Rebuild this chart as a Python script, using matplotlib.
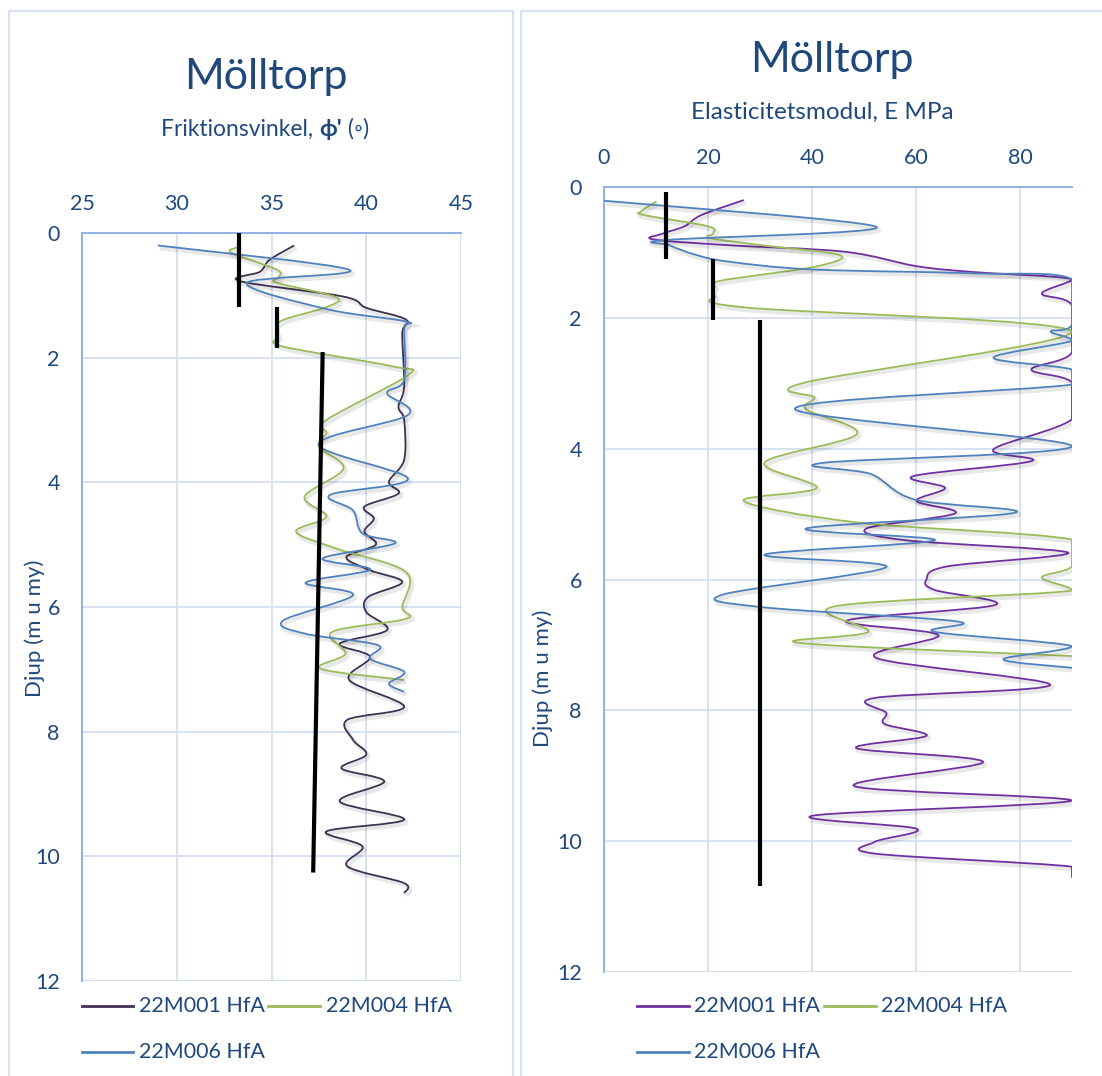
import numpy as np
import matplotlib
matplotlib.use("Agg")
import matplotlib.pyplot as plt
import matplotlib.patheffects as pe
from matplotlib.path import Path
from matplotlib.patches import PathPatch, Rectangle
from matplotlib.lines import Line2D
from matplotlib.transforms import Affine2D

plt.rcParams['font.family'] = ['Lato', 'DejaVu Sans']

# ---- data: friction angle (left chart) ----
phi_001_d = [0.20, 0.43, 0.62, 0.77, 1.02, 1.20, 1.39, 1.61, 2.46, 2.79, 3.00, 3.64, 3.99,
             4.18, 4.39, 4.58, 4.79, 5.00, 5.20, 5.41, 5.60, 5.84, 6.08, 6.37, 6.59, 6.80,
             7.17, 7.60, 7.81, 8.13, 8.37, 8.59, 8.80, 9.12, 9.41, 9.60, 9.84, 10.16, 10.43, 10.59]
phi_001_v = [36.2, 34.9, 34.4, 33.3, 38.8, 40.0, 42.1, 41.9, 42.0, 41.7, 42.0, 42.0, 41.2,
             41.7, 39.9, 40.4, 39.9, 40.5, 38.95, 40.2, 41.9, 40.1, 40.0, 41.1, 38.6, 40.2,
             39.1, 42.0, 39.0, 39.3, 40.0, 38.7, 40.95, 38.6, 42.0, 37.9, 39.8, 39.0, 42.0, 42.0]

phi_004_d = [0.23, 0.32, 0.59, 0.72, 0.80, 1.03, 1.19, 1.42, 1.66, 1.82, 2.14, 2.28, 3.00,
             3.21, 3.43, 3.78, 4.23, 4.55, 4.79, 5.06, 5.44, 6.00, 6.19, 6.40, 6.75, 6.99, 7.17]
phi_004_v = [33.2, 32.9, 35.3, 35.35, 35.3, 38.4, 37.9, 35.45, 35.35, 35.6, 41.4, 42.2, 37.9,
             37.9, 37.5, 38.8, 36.75, 37.9, 36.3, 38.4, 42.1, 41.9, 42.1, 38.2, 38.9, 37.6, 42.0]

phi_006_d = [0.20, 0.59, 0.80, 1.22, 1.42, 1.55, 2.36, 2.57, 2.92, 3.39, 3.94, 4.20, 4.45,
             4.82, 4.98, 5.22, 5.40, 5.61, 5.81, 6.22, 6.43, 6.61, 6.83, 7.04, 7.23, 7.36]
phi_006_v = [29.0, 39.1, 33.7, 37.9, 42.1, 42.0, 42.0, 41.1, 42.2, 37.5, 42.2, 38.1, 39.3,
             39.8, 41.5, 37.7, 40.2, 36.8, 39.3, 35.6, 36.8, 40.6, 40.2, 42.0, 41.2, 42.0]

phi_design_v = [[33.3, 33.3], [35.3, 35.3], [37.7, 37.2]]
phi_design_d = [[0.0, 1.19], [1.19, 1.84], [1.91, 10.26]]

# ---- data: elastic modulus (right chart) ----
e_001_d = [0.20, 0.43, 0.60, 0.71, 0.80, 0.89, 0.99, 1.21, 1.30, 1.41, 1.63, 1.81, 2.53,
           2.79, 2.99, 3.55, 4.01, 4.19, 4.42, 4.60, 4.80, 4.99, 5.22, 5.40, 5.59, 5.80,
           6.00, 6.16, 6.39, 6.63, 6.85, 7.20, 7.61, 7.81, 8.04, 8.21, 8.39, 8.58, 8.79,
           9.16, 9.38, 9.61, 9.81, 10.01, 10.19, 10.39, 10.56]
e_001_v = [26.9, 18.7, 15.5, 11.4, 9.4, 23.9, 46.3, 60.1, 71.0, 90, 84.2, 90, 90,
           82.2, 90, 90, 74.9, 82.2, 59.5, 65.6, 60.1, 67.5, 50.5, 58.0, 89.3, 66.0,
           62.0, 63.6, 75.2, 46.6, 64.3, 52.4, 85.8, 52.1, 54.3, 54.0, 62.0, 48.6, 72.9,
           48.2, 89.9, 40.2, 60.1, 52.1, 52.1, 90, 90]

e_004_d = [0.22, 0.37, 0.43, 0.60, 0.71, 0.78, 0.89, 1.04, 1.22, 1.43, 1.53, 1.66, 1.84,
           2.21, 2.99, 3.22, 3.40, 3.78, 4.21, 4.60, 4.80, 5.13, 5.39, 5.80, 5.97, 6.17,
           6.41, 6.80, 6.97, 7.17]
e_004_v = [10.1, 7.2, 7.8, 20.0, 21.0, 20.3, 30.3, 45.3, 40.5, 22.6, 21.3, 21.3, 27.0,
           90, 38.6, 40.5, 38.9, 48.6, 30.9, 40.9, 26.9, 48.9, 90, 90, 84.2, 90,
           44.4, 50.8, 37.7, 90]

e_006_d = [0.21, 0.61, 0.81, 0.89, 1.04, 1.14, 1.26, 1.32, 1.41, 2.10, 2.21, 2.35, 2.61,
           2.79, 3.02, 3.39, 3.96, 4.22, 4.39, 4.78, 4.98, 5.22, 5.40, 5.62, 5.81, 6.23,
           6.42, 6.64, 6.80, 7.02, 7.22, 7.35]
e_006_v = [0.0, 52.4, 12.0, 12.6, 17.8, 23.9, 39.9, 71.0, 90, 90, 85.9, 90, 74.9,
           90, 90, 36.7, 90, 41.8, 51.4, 59.8, 79.0, 38.9, 63.6, 30.9, 54.3, 22.9,
           30.0, 67.8, 63.6, 90, 76.8, 90]

e_design_v = [[11.9, 11.9], [21.0, 21.0], [30.0, 30.0]]
e_design_d = [[0.08, 1.10], [1.10, 2.03], [2.04, 10.68]]

labels = ["22M001 HfA", "22M004 HfA", "22M006 HfA"]
txt_col = "#1F497D"
grid_col = "#D3DFF1"
spine_col = "#8DB3E2"
green = "#9BBB59"
blue = "#4F81BD"

W, H = 1102, 1076
fig = plt.figure(figsize=(W / 100, H / 100), dpi=100)
# pixel coordinates, origin top-left
T = Affine2D().scale(1 / W, -1 / H).translate(0, 1) + fig.transFigure

shadow = [pe.SimpleLineShadow(offset=(1.5, -2), shadow_color='k', alpha=0.09, linewidth=3),
          pe.Normal()]


def smooth_line(ax, v, d, color, xmax=None):
    pts = np.column_stack([v, d]).astype(float)
    n = len(pts)
    verts = [pts[0]]
    codes = [Path.MOVETO]
    for i in range(n - 1):
        p0 = pts[i - 1] if i > 0 else pts[i]
        p1, p2 = pts[i], pts[i + 1]
        p3 = pts[i + 2] if i + 2 < n else pts[i + 1]
        c1 = p1 + (p2 - p0) / 6
        c2 = p2 - (p3 - p1) / 6
        if xmax is not None:
            c1[0] = min(c1[0], xmax)
            c2[0] = min(c2[0], xmax)
        verts += [c1, c2, p2]
        codes += [Path.CURVE4] * 3
    patch = PathPatch(Path(verts, codes), fill=False, ec=color, lw=1.3,
                      path_effects=shadow, zorder=3)
    ax.add_patch(patch)


def style_axes(ax, xlim, xticks):
    ax.set_xlim(*xlim)
    ax.set_ylim(12, 0)
    ax.set_xticks(xticks)
    ax.set_yticks(range(0, 13, 2))
    ax.xaxis.tick_top()
    ax.tick_params(length=0, labelsize=15.5, labelcolor=txt_col)
    ax.tick_params(axis='x', pad=14)
    ax.tick_params(axis='y', pad=16)
    ax.grid(True, color=grid_col, lw=1.3)
    ax.set_axisbelow(True)
    for s in ['top', 'left']:
        ax.spines[s].set_color(spine_col)
        ax.spines[s].set_linewidth(1.4)
    ax.spines['right'].set_visible(False)
    ax.spines['bottom'].set_visible(False)


def px_axes(x0, y0, x1, y1):
    return fig.add_axes([x0 / W, 1 - y1 / H, (x1 - x0) / W, (y1 - y0) / H])


def legend(xs, y, colors):
    (a0, a1, at), (b0, b1, bt) = xs
    rows = [(a0, a1, at, y, colors[0], labels[0]),
            (b0, b1, bt, y, colors[1], labels[1]),
            (a0, a1, at, y + 46, colors[2], labels[2])]
    for x0, x1, xt, yy, c, lab in rows:
        fig.add_artist(Line2D([x0, x1], [yy, yy], color=c, lw=2, transform=T))
        fig.text(xt, yy, lab, transform=T, color=txt_col, fontsize=15.5,
                 ha='left', va='center')


# chart borders
fig.add_artist(Rectangle((9, 11), 504, 1080, transform=T, fill=False,
                         ec="#D6E2F3", lw=1.5))
fig.add_artist(Rectangle((521, 11), 600, 1080, transform=T, fill=False,
                         ec="#D6E2F3", lw=1.5))

# ---- left chart ----
ax1 = px_axes(82, 233, 461, 981)
style_axes(ax1, (25, 45), range(25, 46, 5))
ax1.axvline(45, color=grid_col, lw=1.3)
ax1.axhline(12, color=grid_col, lw=1.3)
smooth_line(ax1, phi_001_v, phi_001_d, "#3F3151")
smooth_line(ax1, phi_004_v, phi_004_d, green)
smooth_line(ax1, phi_006_v, phi_006_d, blue)
for v, d in zip(phi_design_v, phi_design_d):
    ax1.plot(v, d, color='black', lw=3, solid_capstyle='butt', zorder=4)

fig.text(266, 77, "Mölltorp", transform=T, ha='center', va='center',
         fontsize=31, color=txt_col)
t1 = fig.text(161, 129, "Friktionsvinkel, ", transform=T, ha='left', va='center',
              fontsize=16.5, color=txt_col)
t2 = fig.text(0, 0, "ϕ'", fontsize=16.5, color=txt_col, fontweight='bold', ha='left',
              va='bottom')
t3 = fig.text(0, 0, " (◦)", fontsize=16.5, color=txt_col, ha='left', va='bottom')
fig.text(35, 628, "Djup (m u my)", transform=T, rotation=90, ha='center',
         va='center', fontsize=16, color=txt_col)
legend([(82, 133, 139), (268, 320, 326)], 1006, ["#3F3151", green, blue])

# ---- right chart ----
ax2 = px_axes(604, 187, 1072, 972)
style_axes(ax2, (0, 90), range(0, 81, 20))
ax2.axhline(12, color=grid_col, lw=1.3)
smooth_line(ax2, e_001_v, e_001_d, "#7030A0", xmax=90)
smooth_line(ax2, e_004_v, e_004_d, green, xmax=90)
smooth_line(ax2, e_006_v, e_006_d, blue, xmax=90)
for v, d in zip(e_design_v, e_design_d):
    ax2.plot(v, d, color='black', lw=3, solid_capstyle='butt', zorder=4)

fig.text(832, 60, "Mölltorp", transform=T, ha='center', va='center',
         fontsize=31, color=txt_col)
fig.text(822, 112, "Elasticitetsmodul, E MPa", transform=T, ha='center',
         va='center', fontsize=17.5, color=txt_col)
fig.text(543, 678, "Djup (m u my)", transform=T, rotation=90, ha='center',
         va='center', fontsize=16, color=txt_col)
legend([(637, 689, 694), (824, 876, 881)], 1006, ["#7030A0", green, blue])

# place the bold phi and the unit right after the first part of the subtitle
fig.canvas.draw()
r = fig.canvas.get_renderer()
inv = fig.transFigure.inverted()
bb1 = t1.get_window_extent(r)
t2.set_position(inv.transform((bb1.x1, bb1.y0)))
fig.canvas.draw()
bb2 = t2.get_window_extent(r)
t3.set_position(inv.transform((bb2.x1, bb1.y0)))

fig.savefig("out.png", dpi=100)
